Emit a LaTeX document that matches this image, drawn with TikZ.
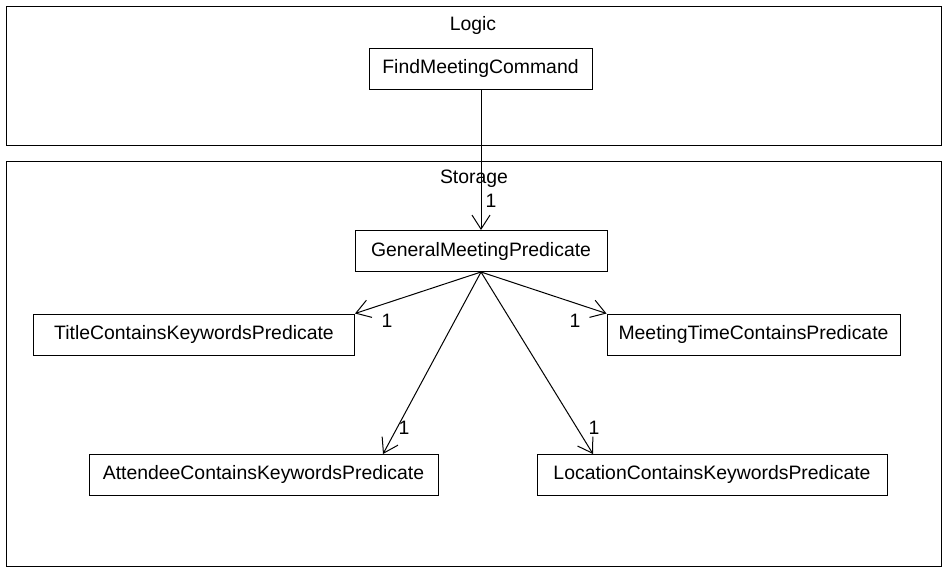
\documentclass[tikz,border=0pt]{standalone}
\usepackage{fontspec}
\setmainfont{Liberation Sans}
\usetikzlibrary{arrows.meta,positioning}
\tikzset{
  basic/.style  = {draw, line width=1pt, rectangle, font=\fontsize{19.4}{22}\selectfont, inner sep=0pt},
  class/.style  = {basic, minimum height=41pt},
  pkg/.style    = {draw, line width=1pt},
  mult/.style   = {font=\fontsize{19.4}{22}\selectfont, inner sep=0pt}
}

\begin{document}
\begin{tikzpicture}[x=1pt,y=-1pt,line width=1pt,
  		>={Straight Barb[length=14pt,width=18pt]},edge/.style={->,draw}]
  			\useasboundingbox (0,0) rectangle (949,571);
  			\draw[pkg] (6,6) rectangle (941,145);
  			\draw[pkg] (6,161) rectangle (941,566);
  			\node[mult] (logic) at (473,25) {Logic};
  			\node[mult] (storage) at (474,179) {Storage};
  			\begin{scope}[every node/.style={class}]
				\node[minimum width=223pt] (findCmd) at (480.5,68.5) {FindMeetingCommand};
				\node[minimum width=252pt] (general) at (481,251) {GeneralMeetingPredicate};
				\node[minimum width=321pt] (title) at (194,334.5) {TitleContainsKeywordsPredicate};
				\node[minimum width=293pt] (meetingTime) at (753.5,334.5) {MeetingTimeContainsPredicate};
				\node[minimum width=349pt] (attendee) at (263.5,474.5) {AttendeeContainsKeywordsPredicate};
				\node[minimum width=350pt] (location) at (712,474.5) {LocationContainsKeywordsPredicate};
			\end{scope}
			\coordinate (attendeeIn) at (383,454);
			\coordinate (locationIn) at (593,454);
			\draw[edge] (findCmd.south -| general.north) -- (general.north);
			\draw[edge] (general.south) -- (title.north east);
			\draw[edge] (general.south) -- (meetingTime.north west);
			\draw[edge] (general.south) -- (attendeeIn);
			\draw[edge] (general.south) -- (locationIn);
			\node[mult] (multGeneral) at (491,201) {1};
			\node[mult] (multTitle) at (387,321) {1};
			\node[mult] (multMeetingTime) at (575,321) {1};
			\node[mult] (multAttendee) at (404,428) {1};
			\node[mult] (multLocation) at (594,428) {1};
		\end{tikzpicture}
\end{document}
